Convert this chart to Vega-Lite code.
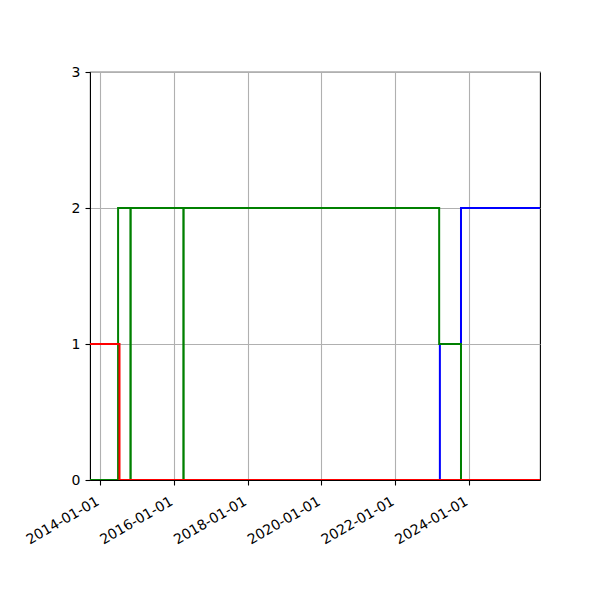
{
  "$schema": "https://vega.github.io/schema/vega-lite/v6.json",
  "width": 450,
  "height": 408,
  "autosize": {"type": "none"},
  "padding": {"left": 90, "top": 72, "right": 60, "bottom": 120},
  "background": "white",
  "config": {
    "view": {"stroke": "black", "strokeWidth": 1.1},
    "axis": {
      "labelFont": "DejaVu Sans",
      "labelFontSize": 14,
      "labelColor": "black",
      "domainColor": "black",
      "tickColor": "black",
      "tickSize": 5,
      "tickWidth": 1.1,
      "labelPadding": 4,
      "gridColor": "#b0b0b0",
      "gridWidth": 1.1,
      "title": null
    }
  },
  "data": {
    "values": [
      {"series": "blue", "date": "2013-09-23", "value": 0},
      {"series": "blue", "date": "2023-03-18", "value": 1},
      {"series": "blue", "date": "2023-10-13", "value": 2},
      {"series": "blue", "date": "2025-12-03", "value": 2},
      {"series": "green", "date": "2013-09-23", "value": 0},
      {"series": "green", "date": "2014-06-28", "value": 2},
      {"series": "green", "date": "2014-10-28", "value": 0},
      {"series": "green", "date": "2014-10-31", "value": 2},
      {"series": "green", "date": "2016-04-04", "value": 0},
      {"series": "green", "date": "2016-04-07", "value": 2},
      {"series": "green", "date": "2023-03-11", "value": 1},
      {"series": "green", "date": "2023-10-13", "value": 0},
      {"series": "green", "date": "2025-12-03", "value": 0},
      {"series": "red", "date": "2013-09-23", "value": 1},
      {"series": "red", "date": "2014-07-12", "value": 0},
      {"series": "red", "date": "2025-12-03", "value": 0}
    ]
  },
  "encoding": {
    "x": {
      "field": "date",
      "type": "temporal",
      "scale": {"domain": ["2013-09-23", "2025-12-03"], "nice": false},
      "axis": {
        "values": ["2014-01-01", "2016-01-01", "2018-01-01", "2020-01-01", "2022-01-01", "2024-01-01"],
        "format": "%Y-%m-%d",
        "labelAngle": -30,
        "labelAlign": "right",
        "labelBaseline": "top",
        "labelOffset": -6,
        "labelPadding": 9,
        "labelFlush": false,
        "labelOverlap": false,
        "grid": true
      }
    },
    "y": {
      "field": "value",
      "type": "quantitative",
      "scale": {"domain": [0, 3], "nice": false},
      "axis": {"values": [0, 1, 2, 3], "grid": true, "labelPadding": 5}
    }
  },
  "layer": [
    {
      "transform": [{"filter": "datum.series === 'blue'"}],
      "mark": {"type": "line", "interpolate": "step-after", "color": "#0000ff", "strokeWidth": 2, "clip": true}
    },
    {
      "transform": [{"filter": "datum.series === 'green'"}],
      "mark": {"type": "line", "interpolate": "step-after", "color": "#008000", "strokeWidth": 2, "clip": true}
    },
    {
      "transform": [{"filter": "datum.series === 'red'"}],
      "mark": {"type": "line", "interpolate": "step-after", "color": "#ff0000", "strokeWidth": 2, "clip": true}
    }
  ]
}
